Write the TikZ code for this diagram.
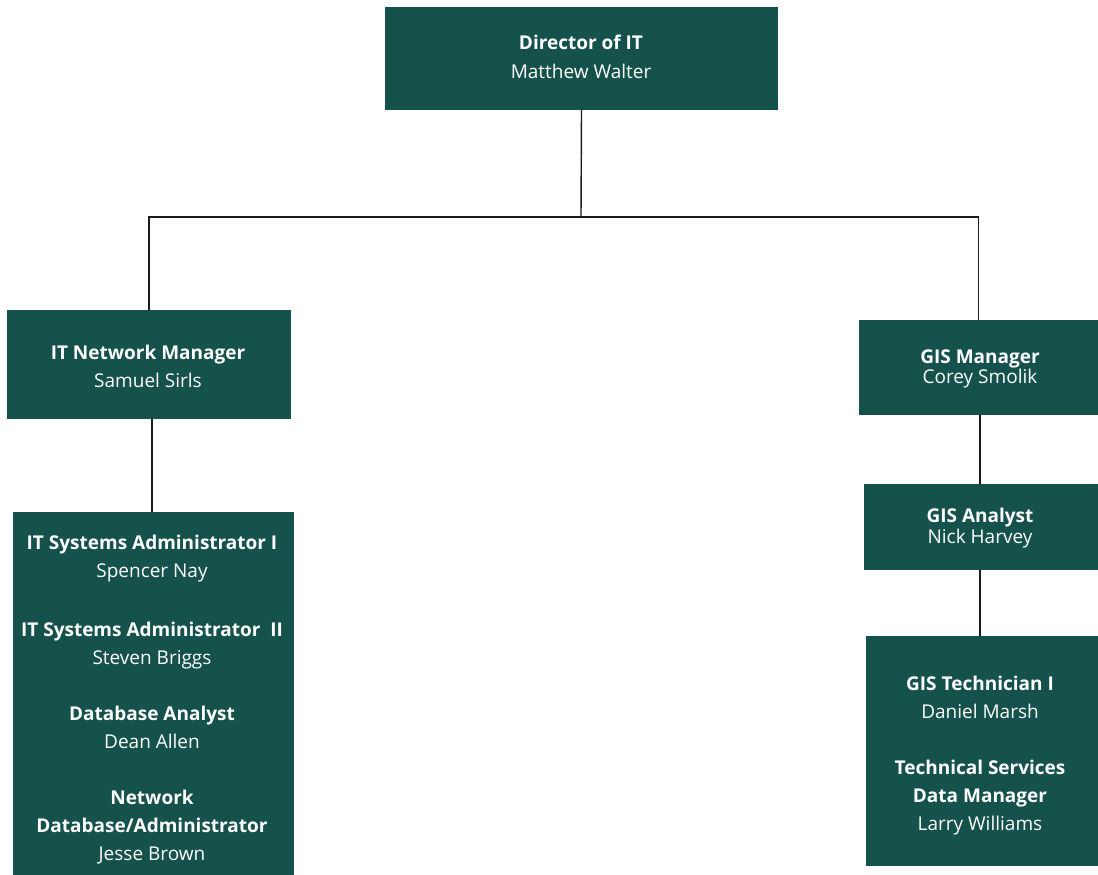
\documentclass[tikz,border=0pt]{standalone}
\usepackage{fontspec}
\setmainfont{Open Sans}
\definecolor{boxgreen}{HTML}{16524C}
\definecolor{linegray}{HTML}{1A1A1A}
\begin{document}
\begin{tikzpicture}[x=1pt,y=-1pt,
  box/.style={fill=boxgreen, draw=none, inner sep=0pt, rectangle},
  nm/.style={anchor=base, text=white, inner sep=0pt, font=\fontsize{19}{22}\selectfont},
  ttl/.style={nm, font=\fontsize{19}{22}\selectfont\bfseries},
  conn/.style={draw=linegray, line width=1.4pt}]
\useasboundingbox (0,0) rectangle (1098,875);
\fill[white] (0,0) rectangle (1098,875);
% boxes
\node[box, minimum width=393pt, minimum height=103pt] (dir) at (581.5,58.5) {};
\node[box, minimum width=284pt, minimum height=109pt] (net) at (149,364.5) {};
\node[box, minimum width=281pt, minimum height=363pt] (sys) at (153.5,693.5) {};
\node[box, minimum width=239pt, minimum height=95pt] (gism) at (978.5,367.5) {};
\node[box, minimum width=234pt, minimum height=86pt] (gisa) at (981,527) {};
\node[box, minimum width=232pt, minimum height=230pt] (tech) at (982,751) {};
% texts
\node[ttl] (t1) at (581,50) {Director of IT};
\node[nm] (n1) at (581,78) {Matthew Walter};
\node[ttl] (t2) at (148,359) {IT Network Manager};
\node[nm] (n2) at (148,387) {Samuel Sirls};
\node[ttl] (t3) at (152,549) {IT Systems Administrator I};
\node[nm] (n3) at (152,577) {Spencer Nay};
\node[ttl] (t4) at (152,636) {IT Systems Administrator\ \ II};
\node[nm] (n4) at (152,664) {Steven Briggs};
\node[ttl] (t5) at (152,720) {Database Analyst};
\node[nm] (n5) at (152,748) {Dean Allen};
\node[ttl] (t6a) at (152,804) {Network};
\node[ttl] (t6b) at (152,832) {Database/Administrator};
\node[nm] (n6) at (152,860) {Jesse Brown};
\node[ttl] (t7) at (980,363) {GIS Manager};
\node[nm] (n7) at (980,383) {Corey Smolik};
\node[ttl] (t8) at (980,522) {GIS Analyst};
\node[nm] (n8) at (980,543) {Nick Harvey};
\node[ttl] (t9) at (980,690) {GIS Technician I};
\node[nm] (n9) at (980,718) {Daniel Marsh};
\node[ttl] (t10a) at (980,774) {Technical Services};
\node[ttl] (t10b) at (980,802) {Data Manager};
\node[nm] (n10) at (980,830) {Larry Williams};
% connectors
\coordinate (j) at (581,217);
\draw[conn] (dir.south) -- (j);
\draw[conn] (net.north) |- (j) -| (gism.north);
\draw[conn] ([xshift=3pt]net.south) -- ([xshift=3pt]net.south |- sys.north);
\draw[conn] ([xshift=1.5pt]gism.south) -- ([xshift=1.5pt]gism.south |- gisa.north);
\draw[conn] ([xshift=-1pt]gisa.south) -- ([xshift=-1pt]gisa.south |- tech.north);
\end{tikzpicture}
\end{document}
